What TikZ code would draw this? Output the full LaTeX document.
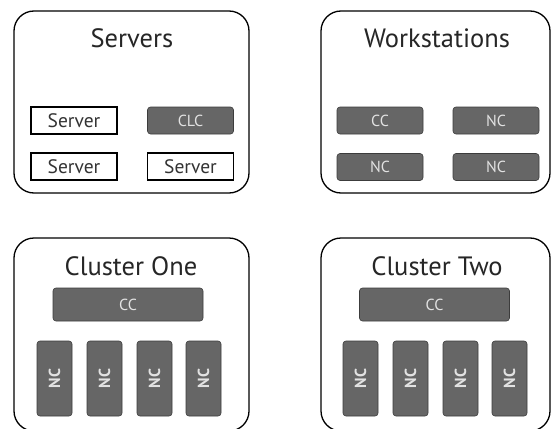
\documentclass[tikz,border=0pt]{standalone}
\usepackage{fontspec}
\setmainfont{PT Sans}
\usepackage{xcolor}
\usepackage{tikz}
\usetikzlibrary{
  positioning
}
\definecolor{boxgray}{RGB}{102,102,102}
\definecolor{edgegray}{RGB}{60,60,60}
\definecolor{labelgray}{RGB}{226,226,226}

\tikzset{
  groupbox/.style={draw=black, line width=1.3pt, rounded corners=20pt, fill=white},
  grouptitle/.style={font=\fontsize{26.5}{30}\selectfont, text=black!85},
  srvbox/.style={draw=black, line width=1.8pt, fill=white, minimum width=86pt,
    minimum height=27pt, font=\fontsize{19.5}{22}\selectfont, text=black!80, inner sep=0pt},
  darkbox/.style={draw=edgegray, line width=0.6pt, fill=boxgray, rounded corners=3pt,
    text=labelgray, font=\fontsize{16}{18}\selectfont, inner sep=0pt},
  wide/.style={darkbox, minimum width=86pt, minimum height=27pt},
  bar/.style={darkbox, minimum width=150pt, minimum height=33pt},
  tallbox/.style={darkbox, minimum width=35pt, minimum height=75pt}
}

\begin{document}
\begin{tikzpicture}[x=1pt, y=-1pt]
  \useasboundingbox (0,0) rectangle (551,428);
  \clip (0,0) rectangle (551,428);
  % Groups
  \node[groupbox, minimum width=235pt, minimum height=182pt] (servers) at (131.5,102) {};
  \node[groupbox, minimum width=229pt, minimum height=182pt] (workst) at (435.5,102) {};
  \node[groupbox, minimum width=235pt, minimum height=193pt] (clusterone) at (131.5,334.5) {};
  \node[groupbox, minimum width=229pt, minimum height=193pt] (clustertwo) at (435.5,334.5) {};
  \node[grouptitle] (serverstitle) at (132,38) {Servers};
  \node[grouptitle] (workttitle) at (437,38) {Workstations};
  \node[grouptitle] (onetitle) at (131,266) {Cluster One};
  \node[grouptitle] (twotitle) at (437,266) {Cluster Two};
  % Servers
  \node[srvbox] (srvA) at (74,120.5) {Server};
  \node[srvbox] (srvB) at (74,166.5) {Server};
  \node[wide] (clc) at (190.5,120.5) {CLC};
  \node[srvbox] (srvC) at (190.5,166.5) {Server};
  % Workstations
  \node[wide] (wscc) at (380,120.5) {CC};
  \node[wide] (wsncA) at (496,120.5) {NC};
  \node[wide] (wsncB) at (380,167) {NC};
  \node[wide] (wsncC) at (496,167) {NC};
  % Clusters
  \node[bar] (onecc) at (128,304.5) {CC};
  \node[bar] (twocc) at (434.5,304.5) {CC};
  \foreach \x [count=\i] in {54.5,104.5,154.5,203.5} {
    \node[tallbox] (onenc\i) at (\x,378.5) {};
    \node[rotate=90, text=labelgray, font=\fontsize{16}{18}\selectfont\bfseries] (onenclabel\i) at (onenc\i) {NC};
  }
  \foreach \x [count=\i] in {360.5,410.5,460.5,509.5} {
    \node[tallbox] (twonc\i) at (\x,378.5) {};
    \node[rotate=90, text=labelgray, font=\fontsize{16}{18}\selectfont\bfseries] (twonclabel\i) at (twonc\i) {NC};
  }
\end{tikzpicture}
\end{document}
